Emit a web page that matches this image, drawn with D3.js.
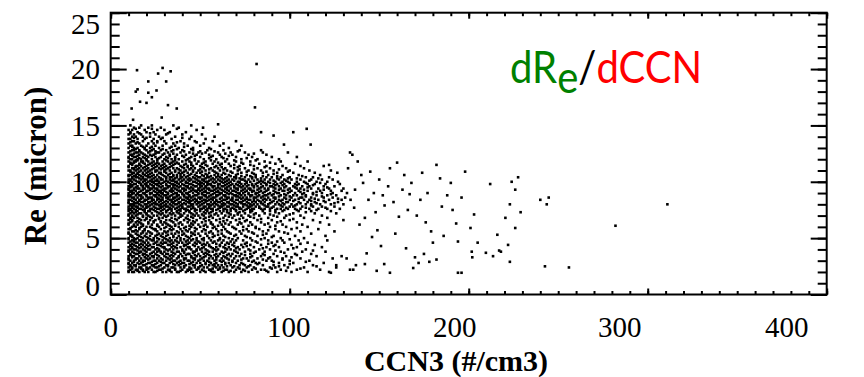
<!DOCTYPE html>
<html>
<head>
<meta charset="utf-8">
<script src="https://cdn.jsdelivr.net/npm/d3@7"></script>
<style>
  html, body { margin: 0; padding: 0; background: #fff; }
  svg { display: block; }
  .axis-label { font-family: 'Liberation Serif', 'Times New Roman', serif; font-size: 29px; fill: #000; }
  .axis-title { font-family: 'Liberation Serif', 'Times New Roman', serif; font-size: 30px; font-weight: bold; fill: #000; }
  .note { font-family: Lato, 'Open Sans', sans-serif; font-size: 44px; }
</style>
</head>
<body>
<svg id="chart" width="864" height="377"></svg>
<script>
// Tick labels
const xTicks = [0, 100, 200, 300, 400];
const yTicks = [0, 5, 10, 15, 20, 25];

// Dense part of the cloud: one row per Re value (micron), CCN3 values (#/cm3) in that row
const coreRows = [
  [2.0, [10,12,13,16,19,21,24,25,29,31,34,37,38,42,45,46,50,53,57,58,62,66,69,73,77,82,88,93,101,110,122]],
  [2.2, [11,14,15,18,20,23,27,28,32,33,36,40,43,44,48,51,55,56,60,64,65,70,74,79,84,86,95,104,117]],
  [2.4, [10,12,16,17,20,22,25,26,30,34,35,39,41,44,47,49,52,54,59,61,63,68,71,76,80,89,92,99,108,126]],
  [2.6, [11,13,14,18,19,23,24,28,31,32,36,38,42,46,47,51,55,57,60,62,67,72,75,78,85,91,97,113]],
  [2.8, [10,12,15,17,21,22,26,29,30,33,37,40,41,45,48,50,53,56,59,64,66,70,73,81,83,94,102,119]],
  [3.0, [11,13,16,18,19,24,25,27,31,35,36,39,43,44,49,52,54,58,61,63,68,71,77,80,87,90,100,111]],
  [3.2, [10,14,15,17,20,22,26,28,32,34,37,41,42,46,47,51,55,57,62,65,69,74,76,82,88,96,106,124]],
  [3.4, [10,12,13,16,21,23,24,27,30,33,35,38,40,45,48,50,53,56,60,63,67,70,72,79,84,93,98,115]],
  [3.6, [11,14,15,18,19,22,25,29,31,32,36,39,43,44,49,52,54,59,61,66,68,73,78,85,91,103,112]],
  [3.8, [10,12,16,17,20,24,26,28,30,34,37,38,41,46,47,51,55,57,62,64,70,75,81,86,95,107,120]],
  [4.0, [11,13,14,18,21,22,25,27,31,33,35,40,42,45,48,50,53,58,60,65,67,72,77,83,89,99,109]],
  [4.2, [10,12,15,17,19,23,24,29,30,34,36,39,43,44,49,52,56,59,63,66,71,74,80,87,94,104,118]],
  [4.4, [11,13,16,18,20,22,26,27,32,33,37,41,42,46,51,53,55,61,64,68,73,78,84,92,101,114]],
  [4.6, [10,14,15,19,21,25,28,30,31,35,38,40,44,47,50,54,57,62,65,69,76,82,90,97,110]],
  [4.8, [12,13,16,17,20,23,24,29,32,34,36,39,43,45,48,52,56,60,63,70,74,79,88,96,105,121]],
  [5.0, [10,13,15,18,21,24,26,30,33,37,39,44,48,52,55,61,66,71,78,86,95,108]],
  [5.2, [11,12,16,19,22,25,28,31,35,38,42,45,50,54,58,63,69,75,82,91,103,120]],
  [5.4, [10,14,17,20,23,27,29,34,36,41,46,49,53,57,62,67,73,80,87,99,112]],
  [5.6, [12,13,15,18,21,26,30,32,37,40,43,47,51,56,60,65,72,77,85,94,106,125]],
  [5.8, [10,11,16,19,24,25,28,33,35,39,44,48,52,59,64,70,76,83,92,101,116]],
  [6.0, [12,14,17,20,22,27,31,34,38,42,45,50,54,58,63,68,74,81,89,98,110]],
  [6.2, [10,13,15,18,23,26,29,32,36,40,46,49,53,57,62,66,71,79,86,96,107,122]],
  [6.4, [11,14,16,21,24,28,30,35,39,43,47,51,56,61,67,72,78,84,93,104,117]],
  [6.6, [10,12,17,19,22,25,31,33,37,41,44,48,55,59,65,70,76,82,90,100,113,130]],
  [6.8, [11,13,15,20,23,27,29,34,38,42,46,50,53,57,63,68,74,80,88,97,108,121]],
  [7.0, [10,12,14,18,21,24,26,30,32,36,40,43,47,49,52,56,60,64,69,73,77,83,91,98,106,118]],
  [7.2, [11,13,16,17,20,23,27,29,33,35,38,41,45,48,53,55,59,62,66,71,75,81,86,94,102,114,126]],
  [7.4, [10,12,15,19,21,22,25,28,31,34,37,39,42,44,47,50,54,57,61,63,67,70,74,79,85,89,96,105,112,123]],
  [7.6, [10,11,13,16,17,19,22,23,26,27,30,33,34,36,39,41,42,45,47,50,51,54,56,57,60,63,64,67,69,72,73,76,79,80,84,86,89,93,95,99,103,106,111,116,121,128]],
  [7.8, [10,12,14,15,18,20,21,24,28,29,31,32,35,38,40,43,44,46,49,52,53,55,58,61,62,65,66,70,71,74,77,78,81,83,87,88,91,96,100,102,107,113,118,125]],
  [8.0, [11,12,13,16,19,20,23,25,26,28,31,33,36,37,40,42,45,46,48,51,54,55,57,59,62,64,67,68,71,74,75,78,80,82,85,88,92,94,97,101,104,109,112,117,123,130]],
  [8.2, [10,13,15,17,18,21,22,25,27,30,32,34,35,38,39,43,44,47,49,50,53,56,58,60,61,65,66,69,72,73,76,79,81,84,86,90,93,98,99,105,110,114,120,127]],
  [8.4, [10,11,14,16,19,20,24,26,28,29,33,34,37,40,41,44,46,48,52,53,55,57,59,63,64,67,70,71,75,77,78,82,85,87,89,94,96,100,103,108,111,116,122,129,134]],
  [8.6, [12,13,15,18,21,22,23,26,29,31,32,35,36,39,42,43,45,49,50,51,54,57,58,62,65,66,68,72,74,76,80,81,84,88,91,92,97,101,106,107,112,119,124,131]],
  [8.8, [10,11,14,16,17,20,24,25,27,30,31,34,37,38,41,44,47,48,52,53,56,59,60,63,64,69,70,73,75,78,79,83,86,87,90,95,98,102,104,109,115,121,126]],
  [9.0, [10,12,13,15,18,19,22,23,26,28,29,32,36,37,40,42,43,46,49,51,54,55,58,61,62,65,67,71,72,74,77,81,82,85,89,93,94,99,103,108,113,118,124,132]],
  [9.2, [11,12,14,17,20,21,24,27,28,30,33,35,38,39,41,45,47,48,50,53,56,57,60,63,66,68,69,73,76,79,80,84,87,91,96,97,101,105,110,117,123,129]],
  [9.4, [10,13,15,16,19,22,23,25,26,30,31,34,36,40,41,44,46,49,52,54,55,59,61,64,67,70,71,75,77,78,83,86,88,92,95,100,104,106,112,116,122,130]],
  [9.6, [10,11,12,15,18,20,21,24,27,29,32,33,37,39,42,43,47,48,51,53,57,58,62,63,66,69,72,74,76,80,82,85,89,90,94,98,102,107,111,119,125]],
  [9.8, [11,13,14,17,19,22,25,26,28,31,34,35,38,40,44,45,49,50,52,55,56,60,61,65,68,70,73,75,79,81,84,87,91,93,97,103,105,110,114,120,128]],
  [10.0, [10,12,15,16,18,21,23,24,27,30,32,36,37,39,42,46,47,50,53,54,57,59,62,64,67,71,72,76,78,83,85,88,92,96,99,104,108,115,121,127]],
  [10.2, [10,11,13,17,19,20,23,26,28,29,33,35,38,41,43,45,48,51,52,56,58,60,63,66,68,73,74,77,82,86,89,94,97,101,106,112,118,124]],
  [10.4, [12,14,15,18,21,22,25,27,31,33,34,37,40,42,46,49,50,54,55,59,61,65,69,70,75,79,81,87,90,95,100,109,113,122]],
  [10.6, [10,11,14,16,19,21,24,26,29,32,35,37,41,44,47,51,54,58,62,66,70,76,81,88,96,105,117]],
  [10.8, [12,13,15,18,20,23,27,28,31,34,38,40,43,48,50,55,59,63,68,73,79,85,93,102,114]],
  [11.0, [10,11,14,17,19,22,25,26,30,33,36,39,42,46,49,53,57,61,65,71,77,84,91,100,111,123]],
  [11.2, [12,13,16,18,21,24,27,29,32,35,37,41,45,47,52,56,60,64,69,75,82,89,98,108]],
  [11.4, [10,14,15,17,20,23,26,28,31,34,39,43,46,50,54,59,67,72,80,87,96,106,119]],
  [11.6, [11,12,16,19,22,25,27,30,33,36,38,42,48,51,57,62,66,74,83,92,103]],
  [11.8, [10,13,14,17,18,21,24,29,32,35,40,44,49,53,58,64,70,78,86,95,110]],
  [12.0, [11,12,15,17,20,23,26,30,34,38,43,47,52,59,65,73,82,94]],
  [12.2, [10,13,14,18,21,25,28,31,36,41,45,50,56,62,70,79,90,104]],
  [12.4, [11,12,16,19,22,24,29,33,37,42,48,55,61,68,77,87]],
  [12.6, [10,14,15,17,21,26,27,32,39,44,49,53,60,67,75,85,99]],
  [12.8, [12,13,16,20,23,28,31,35,40,46,54,63,72,84]],
  [13.0, [10,13,15,19,22,27,33,38,46,55,66]],
  [13.2, [11,12,17,20,25,29,36,43,50,61,73]],
  [13.4, [10,14,16,21,24,31,35,41,52,63]],
  [13.6, [12,13,18,23,26,30,39,47,57,70]],
  [13.8, [10,11,15,19,24,28,34,44,53]],
  [14.0, [12,14,18,22,27,36,45,58]],
  [14.2, [10,13,17,25,31,40,51]],
  [14.4, [11,15,20,24,33,42]],
  [14.6, [10,12,19,26,30,48]],
  [14.8, [13,16,21,28,38]],
  [15.0, [11,17,23,35]]
];

// Rows in between the ones above
const coreRowsB = [
  [2.1, [10,15,18,26,33,39,43,52,56,63,67,75,87,98]],
  [2.3, [12,17,21,29,36,45,49,57,61,72,81,90,106]],
  [2.5, [11,14,24,27,32,41,50,58,65,69,77,94,115]],
  [2.7, [10,16,20,25,35,39,44,53,58,64,74,82,100]],
  [2.9, [13,18,23,28,34,38,46,55,62,68,79,91,109]],
  [3.1, [10,14,21,29,33,41,47,50,59,66,73,85,96]],
  [3.3, [12,19,24,31,38,45,52,59,64,78,89,101]],
  [3.5, [11,18,20,26,34,42,47,55,58,65,75,86,104]],
  [3.7, [13,16,23,28,35,41,46,53,63,71,80,97]],
  [3.9, [10,15,19,27,32,40,48,54,59,69,78,92,113]],
  [4.1, [12,16,20,26,30,37,44,51,57,64,70,85,102]],
  [4.3, [11,14,21,28,35,41,47,55,61,69,76,91]],
  [4.5, [12,17,24,29,34,43,48,52,59,66,75,88,106]],
  [4.7, [11,13,18,26,33,37,42,49,58,67,81,93]],
  [4.9, [10,14,22,27,31,41,46,51,61,68,84,100]],
  [5.1, [12,17,20,29,35,43,57,64,76,90]],
  [5.3, [11,15,26,32,40,47,60,70,85]],
  [5.5, [10,18,22,31,38,45,55,66,79,97]],
  [5.7, [14,19,25,34,42,53,62,74,88]],
  [5.9, [11,16,23,30,41,47,57,69,81,104]],
  [6.1, [13,18,26,33,36,44,52,60,77,92]],
  [6.3, [10,17,21,31,38,45,56,64,73,88]],
  [6.5, [12,15,24,28,34,46,53,63,75,95]],
  [6.7, [11,16,20,27,36,43,52,61,72,84,102]],
  [6.9, [12,18,22,31,39,45,55,66,78,93]],
  [7.1, [10,15,20,28,34,39,46,51,58,67,71,80,89,100]],
  [7.3, [12,14,19,26,31,37,44,52,56,65,72,78,92,109]],
  [7.5, [11,14,18,24,29,32,38,43,48,53,59,65,70,75,78,85,92,97,104,115]],
  [7.7, [12,15,20,25,28,33,37,40,46,52,55,61,68,72,77,83,90,98,109,120]],
  [7.9, [11,13,17,22,27,30,34,39,45,50,56,60,63,69,76,79,86,95,103,112]],
  [8.1, [10,14,15,21,24,29,35,38,41,44,49,52,58,63,66,70,73,77,84,89,96,106,115,125]],
  [8.3, [12,16,19,23,28,31,36,42,45,48,51,54,59,62,68,74,80,83,91,95,102,112,119]],
  [8.5, [13,17,21,23,27,32,35,38,43,47,50,56,61,65,68,73,76,80,86,92,98,105,114,127]],
  [8.7, [10,11,17,20,25,28,33,37,41,44,46,53,55,59,64,70,71,78,82,85,94,100,109,118]],
  [8.9, [12,15,19,22,26,29,32,35,40,43,49,51,57,61,66,68,72,77,81,88,91,97,107,113,123]],
  [9.1, [11,16,20,25,27,31,34,39,44,48,52,53,59,60,64,70,75,79,83,86,92,100,106,115]],
  [9.3, [10,13,18,22,26,29,34,37,42,46,49,51,55,58,62,65,71,74,78,82,88,94,99,108,119]],
  [9.5, [11,14,18,21,24,28,32,35,38,43,45,50,53,57,60,65,69,73,80,84,91,97,103,110,121]],
  [9.7, [12,17,20,23,26,31,35,36,41,46,50,54,56,60,64,67,71,77,79,87,92,96,104,113]],
  [9.9, [10,16,20,24,27,29,33,37,42,43,48,51,54,58,63,66,72,76,82,86,89,95,100,109,117]],
  [10.1, [11,14,19,22,25,26,31,34,35,40,44,49,52,55,61,65,69,75,80,84,91,98,111]],
  [10.3, [12,16,18,24,28,31,36,39,44,47,53,57,62,64,70,72,79,84,93,99,104,116]],
  [10.5, [10,13,17,20,23,30,35,39,43,48,52,56,60,67,73,78,85,93,107]],
  [10.7, [12,15,18,22,28,33,39,45,53,60,64,71,80,91]],
  [10.9, [11,16,21,25,30,36,41,46,51,58,67,76,87,99]],
  [11.1, [13,15,20,23,28,31,38,44,50,55,63,72,80,94]],
  [11.3, [10,14,19,25,30,33,40,43,51,58,62,71,86]],
  [11.5, [12,16,21,24,29,35,41,45,53,61,69,78]],
  [11.7, [11,13,18,23,26,34,37,45,52,60,73,89]],
  [11.9, [14,15,20,26,31,36,42,47,56,69,81]],
  [12.1, [10,16,19,27,32,36,44,55,63,76]],
  [12.3, [12,15,20,23,33,40,47,57,66]],
  [12.5, [13,18,25,30,35,46,51,64,80]],
  [12.7, [11,16,22,25,34,41,50,58,71]],
  [12.9, [14,19,24,29,37,45,56]],
  [13.1, [12,18,23,34,41]],
  [13.5, [11,15,26,37,48]],
  [13.9, [13,20,29,40]],
  [14.3, [11,16,22,32]],
  [14.7, [14,23,37]]
];

// Scattered points outside the dense part: [CCN3, Re]
const sparsePoints = [
  [14.7,19.9],[29,20.1],[26.5,19.6],[33.5,19.8],[31,18.9],[21,18.9],[15,18.2],[14,18.0],
  [25.6,18.1],[21,17.9],[23,17.5],[16.4,17.1],[11.7,16.5],[20,17.0],[32,16.8],[36.9,16.5],
  [81.5,20.45],[80.6,16.6],[28.5,15.7],[12.5,15.5],[45,15.0],[51.6,14.8],[60,15.1],
  [102,14.4],[84,14.4],[91,14.1],[109.5,14.7],[111.7,13.3],[96.8,13.3],[133.7,12.6],
  [122,11.5],[126.6,10.8],[132.6,11.2],
  [135,12.4],[136.5,9.3],[140,10.6],[144,8.4],[148,7.3],[152,8.8],[156,11.2],[160,11.7],
  [163,9.3],[166,7.5],[168,9.9],[173,8.4],[176,6.4],[180,4.6],[182,11.5],[184,10.3],
  [188,8.8],[191,7.5],[194,4.7],[196,8.6],[201,5.9],[205,4.6],
  [138,11.8],[141,9.9],[145,10.9],[147,9.0],[150,10.2],[153,7.9],[155,9.6],[158,8.2],
  [161,6.9],[164,10.6],[167,8.9],[171,7.0],[174,10.8],[177,9.0],[179,5.6],[185,7.8],
  [190,9.9],[193,6.3],[198,10.9],[203,7.1],[139,6.2],[146,5.1],[151,4.3],[159,5.4],
  [165,4.1],[175,3.6],[186,5.2],[136,7.7],[142,6.8],[149,5.7],
  [212,9.8],[224,10.0],[227.6,10.4],[226,9.3],[223,8.0],[229,7.3],[220.5,6.8],[226,5.9],
  [216,5.3],[222,4.4],[217,3.9],
  [240,8.4],[243.6,8.0],[244.7,8.6],[282,6.1],[311,8.0],
  [170,3.3],[172,2.8],[178,2.9],[182,3.1],[169,2.35],[156,1.93],[148.6,2.1],[152.8,2.7],
  [142,2.7],[143,3.65],[135.5,2.2],[133.7,2.2],[137,2.6],[123,1.93],[126,2.6],[129,3.4],
  [131.8,3.2],[202,3.3],[201.7,3.8],[209.6,3.7],[213.6,3.4],[218,3.8],[223,2.9],
  [242.6,2.5],[256,2.4],[196,1.93],[194,1.93]
];

const points = [];
coreRows.concat(coreRowsB).forEach(([re, list]) => list.forEach(c => points.push([c, re])));
sparsePoints.forEach(p => points.push(p));

const svg = d3.select('#chart');
const width = 864;
const height = 377;
const plot = { left: 110.7, right: 826.7, top: 12.7, bottom: 294.5 };

const x = d3.scaleLinear().domain([0, 400]).range([plot.left, plot.right]);
const y = d3.scaleLinear().domain([0, 25]).range([plot.bottom, plot.top]);

svg.append('rect').attr('width', width).attr('height', height).attr('fill', '#fff');

// Points
const dot = 2.6;
svg.append('g')
  .attr('class', 'points')
  .selectAll('rect')
  .data(points)
  .join('rect')
  .attr('x', d => x(d[0]) - dot / 2)
  .attr('y', d => y(d[1]) - dot / 2)
  .attr('width', dot)
  .attr('height', dot)
  .attr('fill', '#000');

// Axes: minor + major ticks on all four sides, all pointing inward
function styleAxis(g) {
  g.select('.domain').remove();
  g.selectAll('.tick line').attr('stroke', '#000').attr('stroke-width', 2);
  g.selectAll('.tick text').remove();
}

const xMinor = d3.range(0, 401, 10);
const yMinor = d3.range(0, 26, 1);

svg.append('g').attr('transform', `translate(0,${plot.bottom})`)
  .call(d3.axisBottom(x).tickValues(xMinor).tickSize(-3.5)).call(styleAxis);
svg.append('g').attr('transform', `translate(0,${plot.bottom})`)
  .call(d3.axisBottom(x).tickValues(xTicks).tickSize(-6)).call(styleAxis);
svg.append('g').attr('transform', `translate(0,${plot.top})`)
  .call(d3.axisTop(x).tickValues(xMinor).tickSize(-3.5)).call(styleAxis);
svg.append('g').attr('transform', `translate(0,${plot.top})`)
  .call(d3.axisTop(x).tickValues(xTicks).tickSize(-6)).call(styleAxis);

svg.append('g').attr('transform', `translate(${plot.left},0)`)
  .call(d3.axisLeft(y).tickValues(yMinor).tickSize(-9)).call(styleAxis);
svg.append('g').attr('transform', `translate(${plot.left},0)`)
  .call(d3.axisLeft(y).tickValues(yTicks).tickSize(-16)).call(styleAxis);
svg.append('g').attr('transform', `translate(${plot.right},0)`)
  .call(d3.axisRight(y).tickValues(yMinor).tickSize(-9)).call(styleAxis);
svg.append('g').attr('transform', `translate(${plot.right},0)`)
  .call(d3.axisRight(y).tickValues(yTicks).tickSize(-16)).call(styleAxis);

// Frame
svg.append('rect')
  .attr('x', plot.left).attr('y', plot.top)
  .attr('width', plot.right - plot.left).attr('height', plot.bottom - plot.top)
  .attr('fill', 'none').attr('stroke', '#000').attr('stroke-width', 2);

// Tick labels (the end labels sit a little inside, as in the original)
const xShift = { 0: 0, 100: -1, 200: -14, 300: -28, 400: -40 };
svg.append('g').selectAll('text')
  .data(xTicks)
  .join('text')
  .attr('class', 'axis-label')
  .attr('x', d => x(d) + xShift[d])
  .attr('y', 337)
  .attr('text-anchor', 'middle')
  .text(d => d);

const yShift = { 0: -9, 25: 11 };
svg.append('g').selectAll('text')
  .data(yTicks)
  .join('text')
  .attr('class', 'axis-label')
  .attr('x', 100)
  .attr('y', d => y(d) + (yShift[d] || 0))
  .attr('dy', '0.35em')
  .attr('text-anchor', 'end')
  .text(d => d);

// Axis titles
svg.append('text')
  .attr('class', 'axis-title')
  .attr('x', 456)
  .attr('y', 371)
  .attr('text-anchor', 'middle')
  .text('CCN3 (#/cm3)');

svg.append('text')
  .attr('class', 'axis-title')
  .style('font-size', '31px')
  .attr('transform', 'translate(46,166) rotate(-90)')
  .attr('text-anchor', 'middle')
  .text('Re (micron)');

// Annotation
const note = svg.append('text')
  .attr('class', 'note')
  .attr('transform', 'translate(510,83) scale(0.91,1)');
note.append('tspan').attr('fill', '#008000').text('dR');
note.append('tspan').attr('fill', '#008000').attr('dy', 10).text('e');
note.append('tspan').attr('fill', '#000').attr('dy', -10).text('/');
note.append('tspan').attr('fill', '#ff0000').text('dCCN');
</script>
</body>
</html>
